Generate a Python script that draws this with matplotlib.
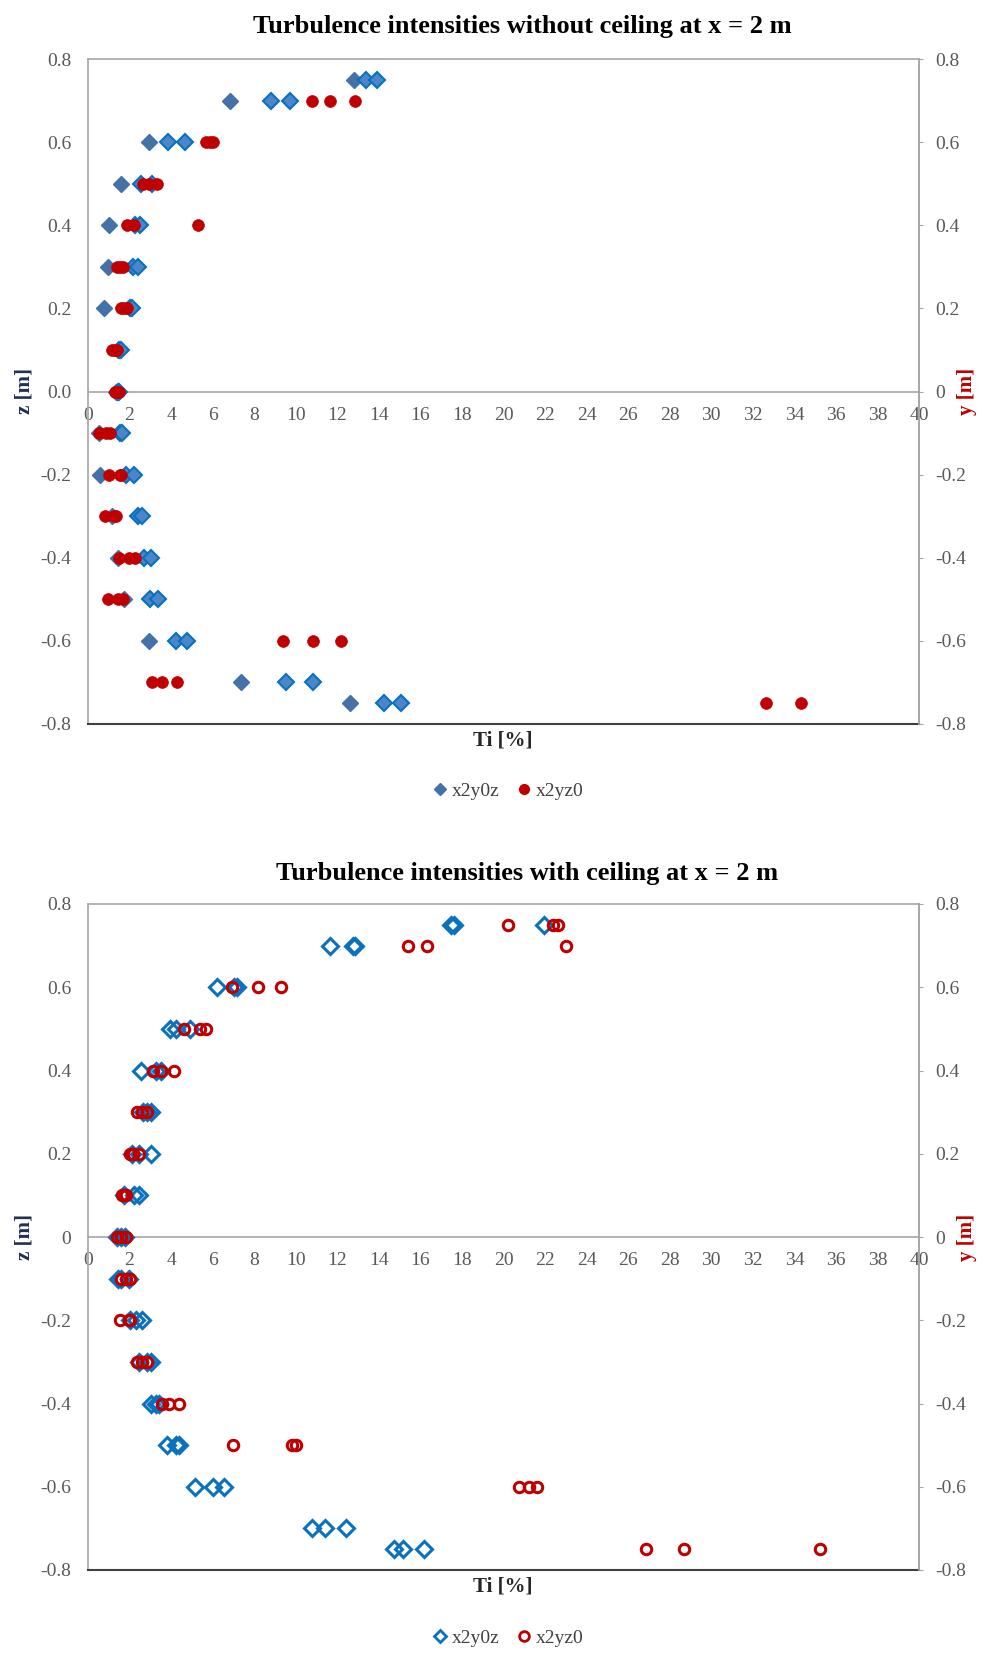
import matplotlib
matplotlib.use('Agg')
import matplotlib.pyplot as plt
import numpy as np
from matplotlib.ticker import FixedLocator, FixedFormatter
from matplotlib.lines import Line2D

plt.rcParams['font.family'] = ['Liberation Serif', 'DejaVu Serif']

nan = float('nan')

# z / y positions [m]
z_levels = [0.75, 0.7, 0.6, 0.5, 0.4, 0.3, 0.2, 0.1, 0.0,
            -0.1, -0.2, -0.3, -0.4, -0.5, -0.6, -0.7, -0.75]

# ---- Without ceiling: x2y0z (three runs) ----
nc_y0z_a = [12.8, 6.85, 2.95, 1.6, 1.0, 0.95, 0.75, 1.45, 1.35,
            0.55, 0.6, 1.15, 1.45, 1.75, 2.95, 7.35, 12.6]
nc_y0z_b = [13.4, 8.8, 3.85, 2.55, 2.25, 2.15, 2.0, 1.5, 1.45,
            1.55, 1.85, 2.4, 2.7, 3.0, 4.25, 9.55, 14.25]
nc_y0z_c = [13.9, 9.7, 4.65, 3.1, 2.5, 2.4, 2.1, 1.6, 1.5,
            1.65, 2.2, 2.6, 3.05, 3.35, 4.75, 10.85, 15.05]
# ---- Without ceiling: x2yz0 ----
nc_yz0_a = [nan, 10.8, 5.7, 2.65, 1.9, 1.4, 1.6, 1.15, 1.3,
            0.55, 1.0, 0.8, 1.5, 0.95, 9.4, 3.1, 32.65]
nc_yz0_b = [nan, 11.65, 5.85, 2.95, 2.2, 1.55, 1.75, 1.3, 1.4,
            0.85, 1.55, 1.25, 1.95, 1.45, 10.85, 3.55, 34.3]
nc_yz0_c = [nan, 12.85, 6.0, 3.3, 5.3, 1.7, 1.9, 1.4, 1.5,
            1.05, 1.6, 1.35, 2.25, 1.7, 12.2, 4.3, nan]

# ---- With ceiling: x2y0z ----
wc_y0z_a = [17.45, 11.65, 6.2, 3.95, 2.55, 2.65, 2.1, 1.75, 1.4,
            1.45, 2.0, 2.45, 3.05, 3.8, 5.15, 10.8, 14.75]
wc_y0z_b = [17.6, 12.75, 7.05, 4.25, 3.25, 2.85, 2.45, 2.2, 1.6,
            1.6, 2.3, 2.85, 3.25, 4.25, 6.0, 11.4, 15.15]
wc_y0z_c = [21.95, 12.85, 7.15, 4.9, 3.5, 3.05, 3.05, 2.45, 1.8,
            1.95, 2.6, 3.05, 3.4, 4.4, 6.55, 12.4, 16.15]
# ---- With ceiling: x2yz0 ----
wc_yz0_a = [20.2, 15.4, 6.95, 4.6, 3.15, 2.35, 2.0, 1.65, 1.4,
            1.6, 1.55, 2.35, 3.55, 7.0, 20.75, nan, 26.85]
wc_yz0_b = [22.4, 16.3, 8.2, 5.4, 3.5, 2.6, 2.15, 1.75, 1.6,
            1.85, 1.95, 2.6, 3.9, 9.8, 21.25, nan, 28.7]
wc_yz0_c = [22.6, 23.0, 9.3, 5.7, 4.15, 2.85, 2.45, 1.85, 1.85,
            2.0, 2.0, 2.85, 4.4, 10.0, 21.6, nan, 35.25]

x_ticks = list(range(0, 41, 2))
y_ticks = [0.8, 0.6, 0.4, 0.2, 0.0, -0.2, -0.4, -0.6, -0.8]
y_left_labels_top = ['0.8', '0.6', '0.4', '0.2', '0.0', '-0.2', '-0.4', '-0.6', '-0.8']
y_right_labels = ['0.8', '0.6', '0.4', '0.2', '0', '-0.2', '-0.4', '-0.6', '-0.8']
y_left_labels_bot = y_right_labels

series_names = ['x2y0z', 'x2yz0']
titles = ['Turbulence intensities without ceiling at x = 2 m',
          'Turbulence intensities with ceiling at x = 2 m']

BLUE_DARK = '#4371A8'
BLUE_FILL = '#4A86C8'
BLUE_EDGE = '#0A70C0'
RED = '#C00000'
GRID_GRAY = '#A6A6A6'
TICK_GRAY = '#595959'
TICK_FS = 14

W, H = 985, 1663
fig = plt.figure(figsize=(W / 100, H / 100), dpi=100)


def fx(px):
    return px / W


def fy(py):
    return 1 - py / H


def make_axes(top_px, bot_px, left_labels):
    ax = fig.add_axes([fx(88), fy(bot_px), fx(919) - fx(88), fy(top_px) - fy(bot_px)])
    ax.set_xlim(0, 40)
    ax.set_ylim(-0.8, 0.8)
    ax.xaxis.set_major_locator(FixedLocator(x_ticks))
    ax.xaxis.set_major_formatter(FixedFormatter([str(t) for t in x_ticks]))
    ax.yaxis.set_major_locator(FixedLocator(y_ticks))
    ax.yaxis.set_major_formatter(FixedFormatter(left_labels))
    ax.spines['bottom'].set_position(('data', 0))
    for s in ['bottom', 'left', 'top', 'right']:
        ax.spines[s].set_color(GRID_GRAY)
        ax.spines[s].set_linewidth(1.2)
    ax.tick_params(axis='x', length=0, pad=11, labelsize=TICK_FS, labelcolor=TICK_GRAY)
    ax.tick_params(axis='y', length=0, pad=12, labelsize=TICK_FS, labelcolor=TICK_GRAY)
    ax.plot([0, 1], [0, 0], transform=ax.transAxes, color='#404040', lw=1.5,
            clip_on=False, zorder=5)
    ax2 = ax.twinx()
    ax2.set_ylim(-0.8, 0.8)
    ax2.yaxis.set_major_locator(FixedLocator(y_ticks))
    ax2.yaxis.set_major_formatter(FixedFormatter(y_right_labels))
    ax2.tick_params(axis='y', length=3, direction='out', color=GRID_GRAY, pad=9,
                    labelsize=TICK_FS, labelcolor=TICK_GRAY)
    for s in ['bottom', 'left', 'top']:
        ax2.spines[s].set_visible(False)
    ax2.spines['right'].set_color(GRID_GRAY)
    ax2.spines['right'].set_linewidth(1.2)
    return ax, ax2


# ---------------- Top chart ----------------
ax, ax2 = make_axes(59, 724, y_left_labels_top)
ax.plot(nc_y0z_a, z_levels, 'D', ms=8, mfc=BLUE_DARK, mec=BLUE_DARK, mew=1.0, zorder=3)
ax.plot(nc_y0z_b, z_levels, 'D', ms=8, mfc=BLUE_FILL, mec=BLUE_EDGE, mew=1.5, zorder=3)
ax.plot(nc_y0z_c, z_levels, 'D', ms=8, mfc=BLUE_FILL, mec=BLUE_EDGE, mew=1.5, zorder=3)
for r in (nc_yz0_a, nc_yz0_b, nc_yz0_c):
    ax2.plot(r, z_levels, 'o', ms=8.5, mfc=RED, mec=RED, mew=0.5, zorder=4)

fig.text(fx(522), fy(26), titles[0], ha='center', va='center', fontsize=19,
         fontweight='bold')
fig.text(fx(24), fy(391), 'z [m]', rotation=90, ha='center', va='center',
         fontsize=15, fontweight='bold', color='#1F3050')
fig.text(fx(967), fy(391), 'y [m]', rotation=90, ha='center', va='center',
         fontsize=15, fontweight='bold', color=RED)
fig.text(fx(503), fy(740), 'Ti [%]', ha='center', va='center', fontsize=15,
         fontweight='bold', color='#262626')
h1 = [Line2D([], [], marker='D', ls='none', ms=6, mfc=BLUE_DARK, mec=BLUE_DARK),
      Line2D([], [], marker='o', ls='none', ms=7, mfc=RED, mec=RED)]
fig.legend(h1, series_names, loc='center', bbox_to_anchor=(fx(507), fy(791)),
           ncol=2, frameon=False, fontsize=14, handletextpad=0.1,
           columnspacing=0.8, handlelength=1.0, labelcolor='#404040')

# ---------------- Bottom chart ----------------
bx, bx2 = make_axes(904, 1570, y_left_labels_bot)
for r in (wc_y0z_a, wc_y0z_b, wc_y0z_c):
    bx.plot(r, z_levels, 'D', ms=8, mfc='none', mec=BLUE_EDGE, mew=2.2, zorder=3)
for r in (wc_yz0_a, wc_yz0_b, wc_yz0_c):
    bx2.plot(r, z_levels, 'o', ms=7.5, mfc='none', mec=RED, mew=2.2, zorder=4)

fig.text(fx(527), fy(874), titles[1], ha='center', va='center', fontsize=19,
         fontweight='bold')
fig.text(fx(24), fy(1237), 'z [m]', rotation=90, ha='center', va='center',
         fontsize=15, fontweight='bold', color='#1F3050')
fig.text(fx(967), fy(1237), 'y [m]', rotation=90, ha='center', va='center',
         fontsize=15, fontweight='bold', color=RED)
fig.text(fx(503), fy(1586), 'Ti [%]', ha='center', va='center', fontsize=15,
         fontweight='bold', color='#262626')
h2 = [Line2D([], [], marker='D', ls='none', ms=6, mfc='none', mec=BLUE_EDGE, mew=2),
      Line2D([], [], marker='o', ls='none', ms=7, mfc='none', mec=RED, mew=2)]
fig.legend(h2, series_names, loc='center', bbox_to_anchor=(fx(507), fy(1638)),
           ncol=2, frameon=False, fontsize=14, handletextpad=0.1,
           columnspacing=0.8, handlelength=1.0, labelcolor='#404040')

fig.savefig('out.png', dpi=100, facecolor='white')
